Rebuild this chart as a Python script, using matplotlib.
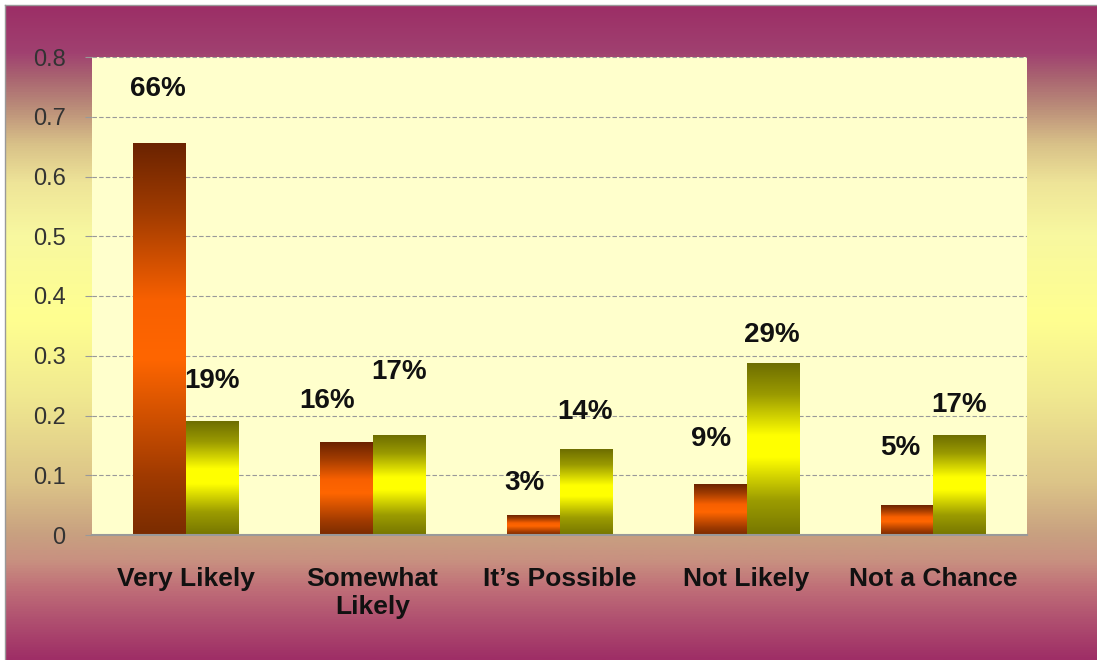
"""Survey bar chart: two series with gradient bars on a purple/yellow backdrop"""

import numpy as np
import matplotlib.pyplot as plt
from matplotlib.colors import LinearSegmentedColormap

plt.rcParams['font.family'] = ['Liberation Sans', 'DejaVu Sans']

categories = ["Very Likely", "Somewhat\nLikely", "It\u2019s Possible", "Not Likely", "Not a Chance"]
series_a = [0.655, 0.155, 0.032, 0.085, 0.05]
series_b = [0.19, 0.167, 0.143, 0.287, 0.167]
labels_a = ["66%", "16%", "3%", "9%", "5%"]
labels_b = ["19%", "17%", "14%", "29%", "17%"]
yticks = [0, 0.1, 0.2, 0.3, 0.4, 0.5, 0.6, 0.7, 0.8]
ytick_labels = ["0", "0.1", "0.2", "0.3", "0.4", "0.5", "0.6", "0.7", "0.8"]

# label offsets from the bar top, in pixels (hand placed in the original)
offs_a = [(-1, 55), (-19, 41), (-9, 33), (-9, 45), (-7, 57)]
offs_b = [(0, 40), (0, 63), (-1, 38), (-1, 29), (-1, 30)]

W, H = 1097, 660
fig = plt.figure(figsize=(W / 100, H / 100), dpi=100)

# backdrop: purple -> pale yellow -> purple, top to bottom
bg_cmap = LinearSegmentedColormap.from_list("bg", [
    (0.0, "#9C2E66"), (0.07, "#A04070"), (0.105, "#A86070"), (0.15, "#B88878"),
    (0.21, "#D8C088"), (0.27, "#EEE498"), (0.35, "#F8F8A0"), (0.48, "#FFFF90"),
    (0.60, "#F0E890"), (0.73, "#DCC488"), (0.81, "#C8A080"), (0.85, "#C89080"),
    (0.89, "#C07078"), (0.94, "#B05070"), (1.0, "#9E2E66")])
bg = fig.add_axes([0, 0, 1, 1])
bg.set_xlim(0, W)
bg.set_ylim(H, 0)
bg.imshow(np.linspace(0, 1, 512).reshape(-1, 1), cmap=bg_cmap, aspect='auto',
          extent=(5, W, H, 5))
bg.plot([5, 5], [5, H], color="#999999", lw=1)
bg.plot([5, W], [5, 5], color="#999999", lw=1)
bg.set_axis_off()

orange = LinearSegmentedColormap.from_list("orange", [
    (0.0, "#7A2C00"), (0.15, "#A03A00"), (0.45, "#FF6600"), (0.6, "#F86000"),
    (0.82, "#A23C00"), (1.0, "#6B2300")])
yellow = LinearSegmentedColormap.from_list("yellow", [
    (0.0, "#767600"), (0.2, "#9C9C00"), (0.45, "#FFFF00"), (0.58, "#FFFF00"),
    (0.82, "#9A9A00"), (1.0, "#6E6E00")])

ax = fig.add_axes([92 / W, 125 / H, 935 / W, 478 / H])
ax.set_facecolor("#FFFFCC")

x = np.arange(len(categories))
w = 0.283
bars_a = ax.bar(x - w / 2, series_a, w, color='none', edgecolor='none')
bars_b = ax.bar(x + w / 2, series_b, w, color='none', edgecolor='none')

grad = np.linspace(0, 1, 256).reshape(-1, 1)
for bars, cmap in ((bars_a, orange), (bars_b, yellow)):
    for r in bars:
        x0, h = r.get_x(), r.get_height()
        ax.imshow(grad, cmap=cmap, origin='lower', aspect='auto',
                  extent=(x0, x0 + r.get_width(), 0, h), zorder=2)

for bars, labels, offs in ((bars_a, labels_a, offs_a), (bars_b, labels_b, offs_b)):
    for r, lab, (dx, dy) in zip(bars, labels, offs):
        ax.annotate(lab, (r.get_x() + r.get_width() / 2, r.get_height()),
                    xytext=(dx * 0.72, dy * 0.72), textcoords='offset points',
                    ha='center', va='center', fontsize=20, fontweight='bold',
                    color="#111111")

ax.set_xlim(-0.5, len(categories) - 0.5)
ax.set_ylim(0, 0.8)
ax.set_yticks(yticks)
ax.set_yticklabels(ytick_labels)
ax.set_xticks(x)
ax.set_xticklabels(categories, fontsize=19, fontweight='bold', color="#111111",
                   linespacing=1.2)
ax.tick_params(axis='y', length=5, color="#999999", labelsize=17,
               labelcolor="#333333", pad=14)
ax.tick_params(axis='x', length=0, pad=23)
ax.yaxis.grid(True, color="#999999", linestyle=(0, (4, 2)), lw=0.8)
ax.set_axisbelow(True)
for s in ("left", "top", "right"):
    ax.spines[s].set_visible(False)
ax.spines["bottom"].set_color("#999999")
ax.spines["bottom"].set_linewidth(1.5)

fig.savefig("out.png", dpi=100)
